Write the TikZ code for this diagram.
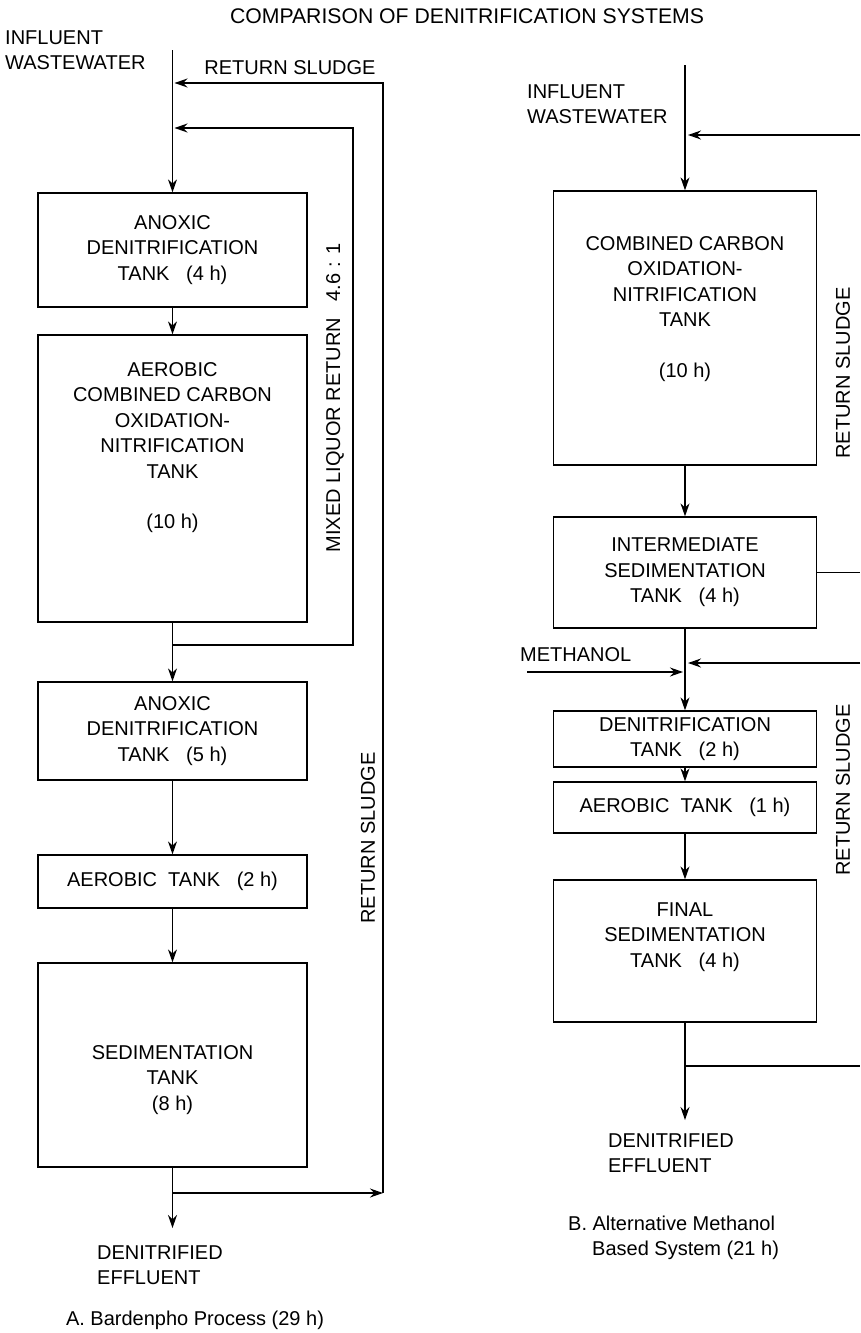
\documentclass[tikz,border=0pt]{standalone}
\usepackage{fontspec}
\setmainfont{Liberation Sans}
\usetikzlibrary{arrows.meta, positioning}

\tikzset{
  tank/.style={draw, line width=1.3pt, minimum width=269pt, inner sep=0pt, align=center},
  tanktext/.style={align=center},
  flow/.style={line width=1.3pt, -{Stealth[length=13pt, width=9pt]}},
  pipe/.style={line width=1.3pt},
  lbl/.style={align=left, inner sep=0pt},
}

\begin{document}
\begin{tikzpicture}[x=1pt, y=-1pt, font=\fontsize{20}{25.5}\selectfont]
\useasboundingbox (0,0) rectangle (860,1333);

\node[font=\fontsize{21.2}{25.5}\selectfont] (title) at (467,16) {COMPARISON OF DENITRIFICATION SYSTEMS};

% A. Bardenpho process
\node[tank, minimum height=114pt] (anoxA) at (172.5,250) {ANOXIC\\DENITRIFICATION\\TANK\ \ \ (4 h)};
\node[tank, minimum height=287pt,
      label={[tanktext, yshift=31pt]center:{AEROBIC\\COMBINED CARBON\\OXIDATION-\\NITRIFICATION\\TANK\\[25pt](10 h)}}] (aerA) at (172.5,478.5) {};
\node[tank, minimum height=98pt] (anox2A) at (172.5,731) {ANOXIC\\DENITRIFICATION\\TANK\ \ \ (5 h)};
\node[tank, minimum height=53pt] (aer2A) at (172.5,881.5) {AEROBIC\ \ TANK\ \ \ (2 h)};
\node[tank, minimum height=204pt,
      label={[tanktext, yshift=-15pt]center:{SEDIMENTATION\\TANK\\(8 h)}}] (sedA) at (172.5,1065) {};

\coordinate (inA) at (172.5,50);
\coordinate (outA) at (172.5,1228);
\coordinate (mlrOff) at (172.5,645);
\coordinate (mlrIn) at (172.5,128);
\coordinate (rsOff) at (172.5,1193);
\coordinate (rsTurn) at (383,1193);
\coordinate (rsIn) at (172.5,83);

\draw[flow] (inA) -- (anoxA);
\draw[flow] (anoxA) -- (aerA);
\draw[flow] (aerA) -- (anox2A);
\draw[flow] (anox2A) -- (aer2A);
\draw[flow] (aer2A) -- (sedA);
\draw[flow] (sedA) -- (outA);
% recycle loops
\draw[flow, shorten >=2pt] (mlrOff) -- ++(180.5,0) |- (mlrIn);
\draw[flow] (rsOff) -- (rsTurn);
\draw[flow, shorten >=2pt] (rsTurn) |- (rsIn);

\node[lbl, anchor=west] (infA) at (5,50) {INFLUENT\\WASTEWATER};
\node (rsLblA) at (290,68) {RETURN SLUDGE};
\node[rotate=90] (mlrLbl) at (335,398) {MIXED LIQUOR RETURN\ \ \ 4.6 : 1};
\node[rotate=90] (rsLblA2) at (368,838) {RETURN SLUDGE};
\node[lbl, anchor=west] (effA) at (97,1265) {DENITRIFIED\\EFFLUENT};
\node (capA) at (195,1320) {A. Bardenpho Process (29 h)};

% B. methanol based system
\node[tank, minimum width=263pt, minimum height=274pt,
      label={[tanktext, yshift=19pt]center:{COMBINED CARBON\\OXIDATION-\\NITRIFICATION\\TANK\\[25pt](10 h)}}] (comb) at (685,328) {};
\node[tank, minimum width=263pt, minimum height=111pt] (interm) at (685,572.5) {INTERMEDIATE\\SEDIMENTATION\\TANK\ \ \ (4 h)};
\node[tank, minimum width=263pt, minimum height=56pt] (denit) at (685,739) {DENITRIFICATION\\TANK\ \ \ (2 h)};
\node[tank, minimum width=263pt, minimum height=51pt] (aerB) at (685,807.5) {AEROBIC\ \ TANK\ \ \ (1 h)};
\node[tank, minimum width=263pt, minimum height=142pt,
      label={[tanktext, yshift=14pt]center:{FINAL\\SEDIMENTATION\\TANK\ \ \ (4 h)}}] (finsed) at (685,951) {};

\coordinate (inB) at (685,65);
\coordinate (outB) at (685,1120);
\coordinate (rsB1) at (860,135);
\coordinate (rsB1in) at (685,135);
\coordinate (rsB2) at (860,572.5);
\coordinate (rsB3) at (860,663);
\coordinate (rsB3in) at (685,663);
\coordinate (rsB4off) at (685,1066);
\coordinate (rsB4) at (860,1066);
\coordinate (meoh) at (527,672);
\coordinate (meohIn) at (685,672);

\draw[flow] (inB) -- (comb);
\draw[flow] (comb) -- (interm);
\draw[flow] (interm) -- (denit);
\draw[flow] (denit) -- (aerB);
\draw[flow] (aerB) -- (finsed);
\draw[flow] (finsed) -- (outB);
\draw[flow, shorten >=3pt] (rsB1) -- (rsB1in);
\draw[pipe] (interm.east) -- (rsB2);
\draw[flow, shorten >=3pt] (rsB3) -- (rsB3in);
\draw[pipe] (rsB4off) -- (rsB4);
\draw[flow, shorten >=2pt] (meoh) -- (meohIn);

\node[lbl, anchor=west] (infB) at (527,104) {INFLUENT\\WASTEWATER};
\node[lbl, anchor=west] (meohLbl) at (520,655) {METHANOL};
\node[rotate=90] (rsLblB1) at (843,373) {RETURN SLUDGE};
\node[rotate=90] (rsLblB2) at (843,790) {RETURN SLUDGE};
\node[lbl, anchor=west] (effB) at (608,1153) {DENITRIFIED\\EFFLUENT};
\node[lbl, anchor=west] (capB) at (568,1238) {B. Alternative Methanol\\\hspace*{24pt}Based System (21 h)};
\end{tikzpicture}
\end{document}
